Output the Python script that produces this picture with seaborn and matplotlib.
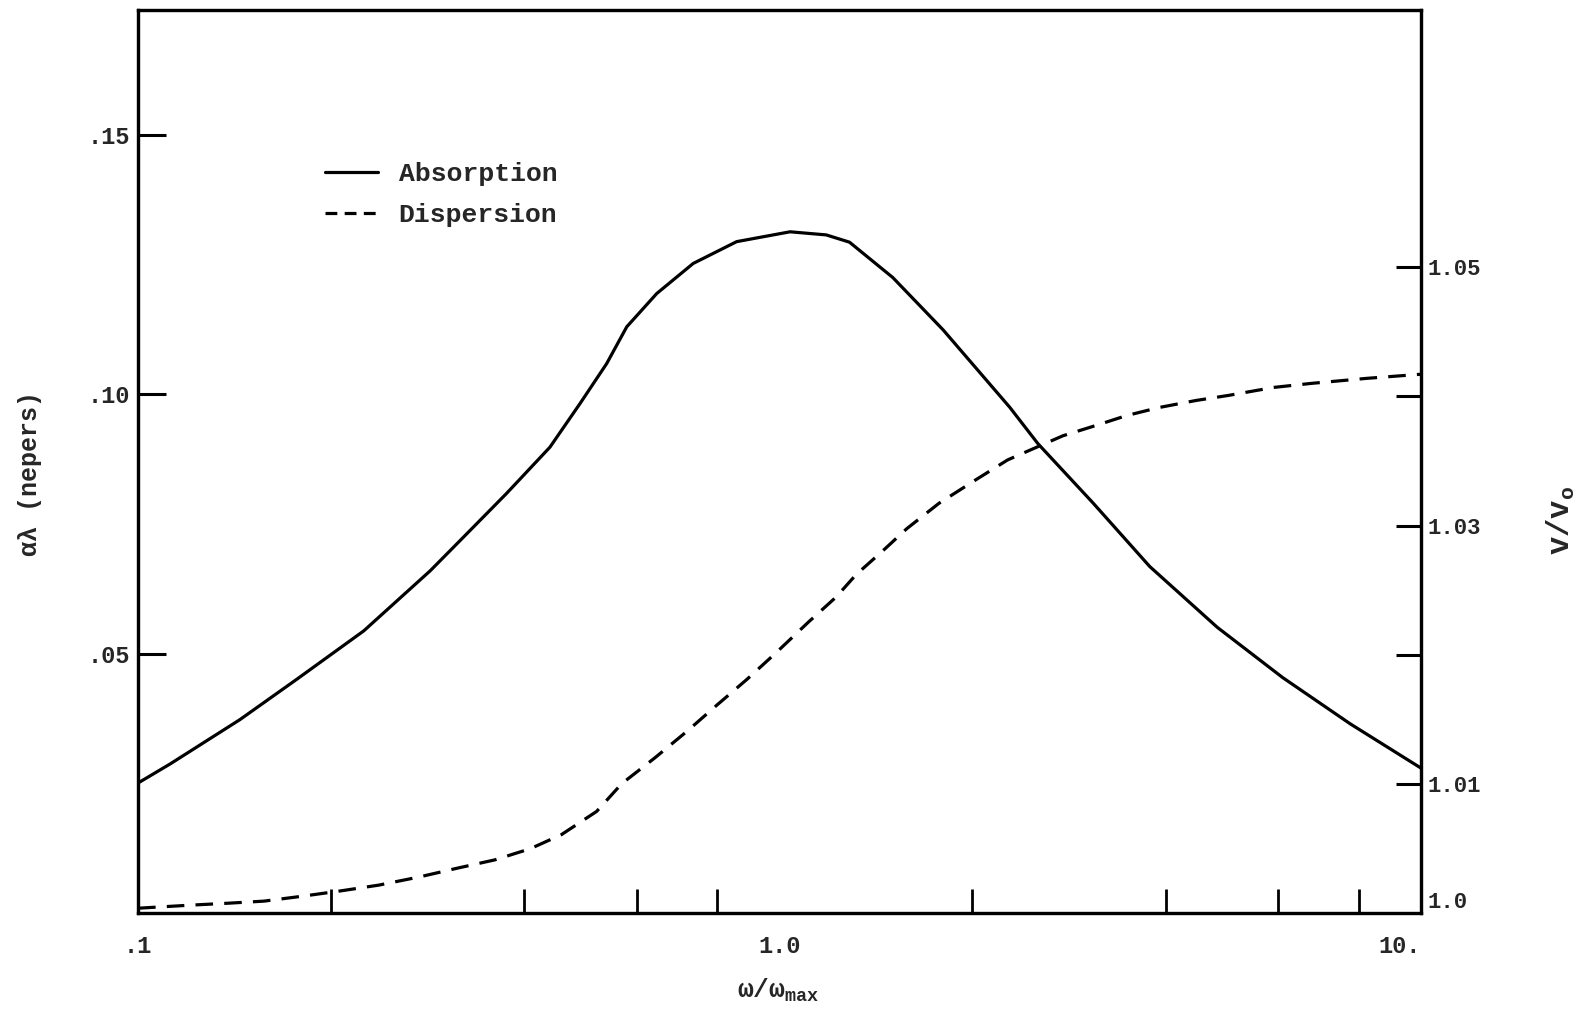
import matplotlib
matplotlib.use("Agg")
import matplotlib.pyplot as plt
import seaborn as sns
import numpy as np
from matplotlib.ticker import FixedLocator, NullFormatter
from matplotlib.lines import Line2D

# ---- data ----
abs_w = [0.1, 0.1123, 0.1441, 0.1764, 0.2248, 0.2855, 0.3177, 0.3755, 0.4387, 0.4887,
         0.5378, 0.5781, 0.6437, 0.7338, 0.8576, 1.039, 1.183, 1.286, 1.502, 1.800,
         2.286, 2.529, 3.086, 3.780, 4.816, 6.093, 7.763, 10.0]
abs_val = [0.0251, 0.0288, 0.0373, 0.0450, 0.0544, 0.0660, 0.0718, 0.0809, 0.0898, 0.0982,
           0.1059, 0.1130, 0.1194, 0.1252, 0.1294, 0.1313, 0.1307, 0.1293, 0.1225, 0.1124,
           0.0975, 0.0905, 0.0790, 0.0668, 0.0551, 0.0454, 0.0365, 0.0280]

disp_w = [0.1, 0.1199, 0.1384, 0.1572, 0.1810, 0.2062, 0.2374, 0.2744, 0.3159, 0.3598,
          0.4085, 0.4570, 0.5187, 0.5677, 0.6398, 0.7186, 0.8001, 0.8888, 0.9878, 1.1094,
          1.2254, 1.3163, 1.4559, 1.5791, 1.7742, 2.0210, 2.2693, 2.5475, 2.7680, 3.1083,
          3.4768, 3.9034, 4.4627, 5.0108, 5.8965, 6.7422, 8.2282, 10.0]
disp_val = [1.00039, 1.00062, 1.00078, 1.00094, 1.00133, 1.00172, 1.00218, 1.00281, 1.00351, 1.00413,
            1.00499, 1.00608, 1.00788, 1.01003, 1.01204, 1.01411, 1.01614, 1.01808, 1.02016, 1.02253,
            1.02447, 1.02620, 1.02814, 1.02976, 1.03174, 1.03353, 1.03509, 1.03618, 1.03696, 1.03774,
            1.03852, 1.03914, 1.03969, 1.04008, 1.04070, 1.04101, 1.04140, 1.04172]

x_major = [0.1, 1.0, 10.0]
x_major_labels = [".1", "1.0", "10."]
x_minor = [0.2, 0.4, 0.6, 0.8, 2, 4, 6, 8]
left_ticks = [0.05, 0.10, 0.15]
left_labels = [".05", ".10", ".15"]
right_ticks = [1.0, 1.01, 1.02, 1.03, 1.04, 1.05]
right_labels = ["1.0", "1.01", "", "1.03", "", "1.05"]
series_names = ["Absorption", "Dispersion"]

# ---- style ----
sns.set_theme(style="white")
FONT = ["Liberation Mono", "DejaVu Sans Mono"]
plt.rcParams["font.family"] = FONT
plt.rcParams["font.weight"] = "bold"
plt.rcParams["axes.labelweight"] = "bold"
plt.rcParams["mathtext.fontset"] = "custom"
plt.rcParams["mathtext.rm"] = "Liberation Mono:bold"
plt.rcParams["mathtext.it"] = "Liberation Mono:bold"

fig = plt.figure(figsize=(15.8, 10.17), dpi=100)
ax = fig.add_axes([0.0874, 0.102, 0.8118, 0.888])
ax2 = ax.twinx()

LW = 2.3
sns.lineplot(x=abs_w, y=abs_val, ax=ax, color="black", lw=LW, sort=False)
sns.lineplot(x=disp_w, y=disp_val, ax=ax2, color="black", lw=LW, sort=False,
             linestyle=(0, (5.5, 3.5)))

ax.set_xscale("log")
ax.set_xlim(0.1, 10)
ax.set_ylim(0, 0.174)
ax2.set_ylim(1.0, 1.0699)

# x ticks
ax.xaxis.set_major_locator(FixedLocator(x_major))
ax.set_xticklabels(x_major_labels)
ax.xaxis.set_minor_locator(FixedLocator(x_minor))
ax.xaxis.set_minor_formatter(NullFormatter())
ax.tick_params(axis="x", which="major", length=0, pad=16, labelsize=17, bottom=True)
ax.tick_params(axis="x", which="minor", direction="in", length=17, width=2.0,
               color="black", bottom=True)
xl = ax.get_xticklabels()
xl[-1].set_ha("right")

# left y
ax.set_yticks(left_ticks)
ax.set_yticklabels(left_labels)
ax.tick_params(axis="y", which="major", direction="in", length=20, width=2.2,
               color="black", pad=6, labelsize=17, left=True)
ax.tick_params(axis="y", which="minor", left=False)

# right y
ax2.set_yticks(right_ticks)
ax2.set_yticklabels(right_labels)
ax2.tick_params(axis="y", which="major", direction="in", length=18, width=2.2,
                color="black", pad=5, labelsize=16, right=True)
ax2.yaxis.get_major_ticks()[0].tick2line.set_visible(False)
ax2.yaxis.get_major_ticks()[0].tick1line.set_visible(False)
ax2.get_yticklabels()[0].set_va("bottom")
ax2.grid(False)
ax.grid(False)

for a in (ax, ax2):
    for s in a.spines.values():
        s.set_linewidth(2.3)
        s.set_color("black")
        s.set_visible(True)

ax.set_xlabel(r"$\omega$/$\omega_{\mathregular{max}}$", fontsize=19, fontweight="bold")
ax.xaxis.set_label_coords(0.499, -0.070)
ax.set_ylabel("αλ (nepers)", fontsize=18, fontweight="bold")
ax.yaxis.set_label_coords(-0.075, 0.487)
ax2.set_ylabel(r"v/v$_{\mathregular{o}}$", fontsize=22, rotation=90, fontweight="bold")
ax2.yaxis.set_label_coords(1.097, 0.435)

handles = [Line2D([], [], color="black", lw=LW),
           Line2D([], [], color="black", lw=LW, linestyle=(0, (3.7, 2.3)))]
ax.legend(handles, series_names, loc="upper left", bbox_to_anchor=(0.127, 0.858),
          frameon=False, fontsize=19, handlelength=2.0, handletextpad=0.8,
          labelspacing=0.65)

fig.savefig("out.png", dpi=100)
